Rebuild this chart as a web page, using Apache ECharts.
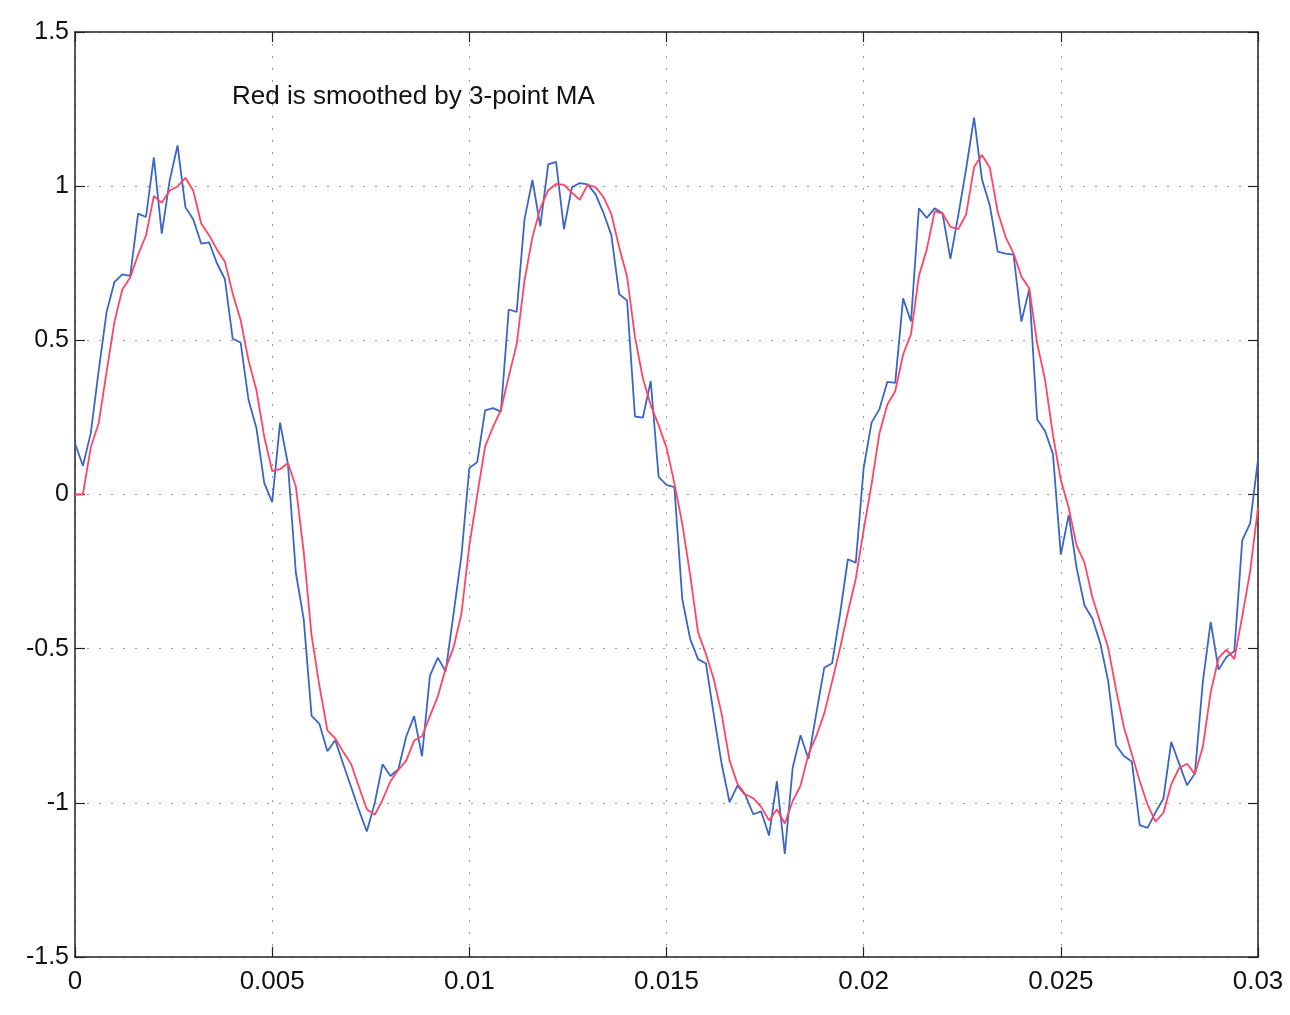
<!DOCTYPE html>
<html>
<head>
<meta charset="utf-8">
<title>3-point MA</title>
<script src="https://cdn.jsdelivr.net/npm/echarts@6/dist/echarts.min.js"></script>
<style>
  html, body { margin: 0; padding: 0; background: #fff; }
  #chart { width: 1290px; height: 1015px; }
</style>
</head>
<body>
<div id="chart"></div>
<script>
// noisy signal, one sample every 0.0002 s
const sampleStep = 0.0002;
const blue = [
  0.166, 0.093, 0.199, 0.401, 0.591, 0.689, 0.714, 0.709, 0.911, 0.900,
  1.093, 0.846, 1.018, 1.132, 0.932, 0.892, 0.814, 0.818, 0.750, 0.699,
  0.505, 0.493, 0.307, 0.216, 0.037, -0.025, 0.233, 0.098, -0.253, -0.404,
  -0.718, -0.744, -0.833, -0.797, -0.873, -0.948, -1.023, -1.093, -1.001, -0.875,
  -0.913, -0.891, -0.785, -0.719, -0.849, -0.588, -0.529, -0.574, -0.386, -0.198,
  0.086, 0.105, 0.273, 0.280, 0.269, 0.600, 0.592, 0.893, 1.020, 0.870,
  1.071, 1.079, 0.861, 0.996, 1.010, 1.006, 0.974, 0.914, 0.842, 0.650,
  0.629, 0.253, 0.249, 0.368, 0.057, 0.031, 0.024, -0.339, -0.468, -0.534,
  -0.548, -0.715, -0.875, -0.998, -0.944, -0.975, -1.037, -1.028, -1.106, -0.930,
  -1.166, -0.886, -0.781, -0.858, -0.709, -0.562, -0.547, -0.388, -0.210, -0.221,
  0.086, 0.233, 0.277, 0.365, 0.362, 0.636, 0.561, 0.928, 0.897, 0.928,
  0.912, 0.764, 0.906, 1.058, 1.222, 1.022, 0.937, 0.788, 0.781, 0.778,
  0.561, 0.666, 0.243, 0.206, 0.131, -0.195, -0.066, -0.237, -0.360, -0.402,
  -0.482, -0.605, -0.813, -0.848, -0.866, -1.072, -1.081, -1.031, -0.987, -0.802,
  -0.873, -0.943, -0.905, -0.609, -0.413, -0.568, -0.527, -0.508, -0.149, -0.094,
  0.113
];
// smoothed curve (red)
const red = [
  0, 0, 0.153, 0.231, 0.397, 0.560, 0.665, 0.704, 0.778, 0.840,
  0.968, 0.946, 0.986, 0.999, 1.027, 0.985, 0.879, 0.841, 0.794, 0.756,
  0.651, 0.566, 0.435, 0.339, 0.187, 0.076, 0.082, 0.102, 0.026, -0.186,
  -0.458, -0.622, -0.765, -0.791, -0.834, -0.873, -0.948, -1.021, -1.039, -0.990,
  -0.930, -0.893, -0.863, -0.798, -0.784, -0.719, -0.655, -0.564, -0.496, -0.386,
  -0.166, -0.002, 0.155, 0.219, 0.274, 0.383, 0.487, 0.695, 0.835, 0.928,
  0.987, 1.007, 1.004, 0.979, 0.956, 1.004, 0.997, 0.965, 0.910, 0.802,
  0.707, 0.511, 0.377, 0.290, 0.225, 0.152, 0.037, -0.095, -0.261, -0.447,
  -0.517, -0.599, -0.713, -0.863, -0.939, -0.972, -0.985, -1.013, -1.057, -1.021,
  -1.067, -0.994, -0.944, -0.842, -0.783, -0.710, -0.606, -0.499, -0.382, -0.273,
  -0.115, 0.033, 0.199, 0.292, 0.335, 0.454, 0.520, 0.708, 0.795, 0.918,
  0.912, 0.868, 0.861, 0.909, 1.062, 1.101, 1.060, 0.916, 0.835, 0.782,
  0.707, 0.668, 0.490, 0.372, 0.193, 0.047, -0.043, -0.166, -0.221, -0.333,
  -0.415, -0.496, -0.633, -0.755, -0.842, -0.929, -1.006, -1.061, -1.033, -0.940,
  -0.887, -0.873, -0.907, -0.819, -0.642, -0.530, -0.503, -0.534, -0.395, -0.250,
  -0.043
];
const noteText = "Red is smoothed by 3-point MA";

const times = blue.map((_, i) => +(i * sampleStep).toFixed(4));

let myChart = echarts.init(document.getElementById("chart"));
const font = "Liberation Sans, Arial, Helvetica, sans-serif";
const frame = { show: true, onZero: false, lineStyle: { color: "#222", width: 1.5 } };
const ticks = { show: true, inside: true, length: 10, lineStyle: { color: "#222", width: 1.2 } };
const dots = { show: true, lineStyle: { color: "#999", width: 1, type: [2, 10] } };

myChart.setOption({
  animation: false,
  backgroundColor: "#fff",
  grid: { left: 75, right: 32, top: 32, bottom: 58 },
  xAxis: [
    {
      type: "value",
      min: 0,
      max: 0.03,
      interval: 0.005,
      axisLine: frame,
      axisTick: ticks,
      axisLabel: { color: "#111", fontSize: 26, fontFamily: font, margin: 12 },
      splitLine: dots,
    },
    {
      type: "value",
      position: "top",
      min: 0,
      max: 0.03,
      interval: 0.005,
      axisLine: frame,
      axisTick: ticks,
      axisLabel: { show: false },
      splitLine: { show: false },
    },
  ],
  yAxis: [
    {
      type: "value",
      min: -1.5,
      max: 1.5,
      interval: 0.5,
      axisLine: frame,
      axisTick: ticks,
      axisLabel: { color: "#111", fontSize: 25, fontFamily: font, margin: 6 },
      splitLine: dots,
    },
    {
      type: "value",
      position: "right",
      min: -1.5,
      max: 1.5,
      interval: 0.5,
      axisLine: frame,
      axisTick: ticks,
      axisLabel: { show: false },
      splitLine: { show: false },
    },
  ],
  graphic: [
    {
      type: "text",
      left: 232,
      top: 84,
      style: { text: noteText, fontSize: 26, fontFamily: font, fill: "#111" },
    },
  ],
  series: [
    {
      name: "noisy",
      type: "line",
      data: times.map((t, i) => [t, blue[i]]),
      showSymbol: false,
      lineStyle: { color: "#3a66c6", width: 1.8 },
    },
    {
      name: "smoothed",
      type: "line",
      data: times.map((t, i) => [t, red[i]]),
      showSymbol: false,
      lineStyle: { color: "#ff4466", width: 1.8 },
    },
  ],
});
</script>
</body>
</html>
